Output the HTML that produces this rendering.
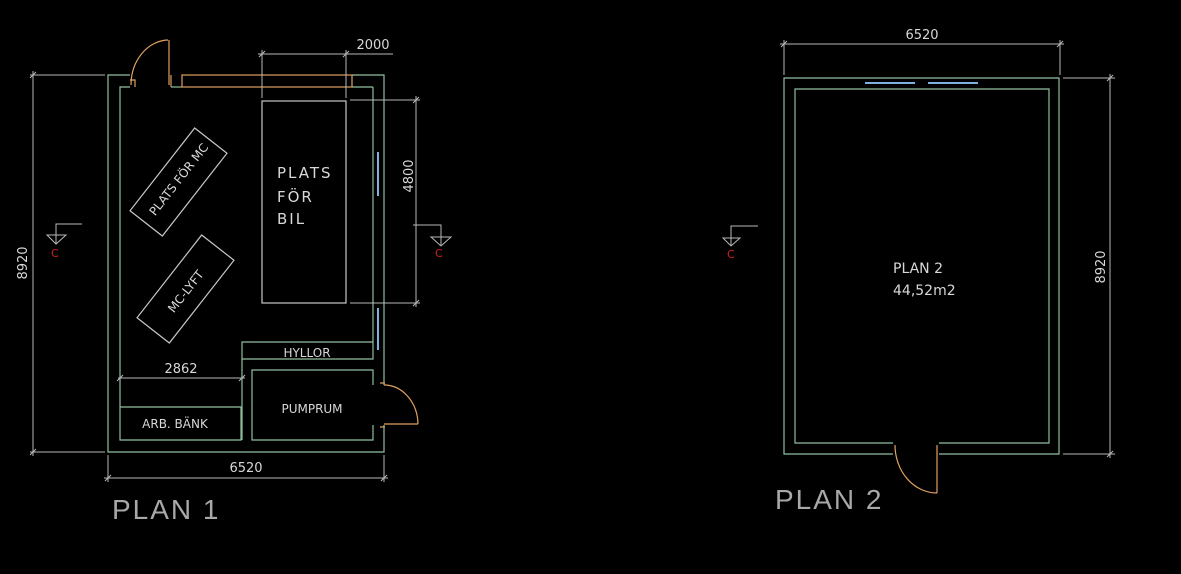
<!DOCTYPE html>
<html><head><meta charset="utf-8"><style>
html,body{margin:0;padding:0;background:#000;}
svg{display:block;}
text{font-family:"DejaVu Sans","Liberation Sans",sans-serif;fill:#d8d8d8;}
</style></head><body>
<svg width="1181" height="574" viewBox="0 0 1181 574" xmlns="http://www.w3.org/2000/svg">
<rect width="1181" height="574" fill="#000"/>
<g fill="none" stroke-width="1.2">
<g stroke="#8fbf9f">
<polyline points="130,75 108,75 108,452 384,452 384,425"/>
<polyline points="384,385 384,75 352,75"/>
<polyline points="130,87 120,87 120,440 241,440 241,407 120,407"/>
<polyline points="171,87 182,87"/>
<line x1="352" y1="87" x2="373" y2="87"/>
<polyline points="373,87 373,359 242,359 242,342 373,342"/>
<line x1="242" y1="359" x2="242" y2="440"/>
<polyline points="373,385 373,370 252,370 252,440 373,440 373,425"/>
</g>
<g stroke="#e0a060">
<rect x="182" y="75" width="170" height="12"/>
<line x1="171" y1="75" x2="171" y2="87"/>
<line x1="169" y1="40" x2="169" y2="85"/>
<path d="M131,85 A38,45 0 0 1 168,40"/>
<line x1="384" y1="424" x2="418" y2="424"/>
<path d="M384,385 A34,40 0 0 1 418,424"/>
<path d="M130,80 h5 v7 M380,383 h5 M380,427 h5"/>
</g>
<g stroke="#80b0e0" stroke-width="2">
<line x1="378" y1="152" x2="378" y2="196"/>
<line x1="378" y1="308" x2="378" y2="350"/>
<line x1="865" y1="83" x2="915" y2="83"/>
<line x1="928" y1="83" x2="978" y2="83"/>
</g>
<g stroke="#c8c8c8">
<rect x="262" y="101" width="84" height="202"/>
<rect x="-52.5" y="-20.5" width="105" height="41" transform="translate(178.5,182) rotate(-52)"/>
<rect x="-52.5" y="-20.5" width="105" height="41" transform="translate(185.5,289) rotate(-52)"/>
</g>
<g stroke="#b8b8b8" stroke-width="1">
<line x1="262" y1="50" x2="262" y2="98"/><line x1="346" y1="50" x2="346" y2="98"/>
<line x1="258" y1="54" x2="393" y2="54"/>
<line x1="350" y1="100" x2="420" y2="100"/><line x1="350" y1="303" x2="420" y2="303"/>
<line x1="416" y1="96" x2="416" y2="307"/>
<line x1="118" y1="378" x2="245" y2="378"/>
<line x1="108" y1="455" x2="108" y2="482"/><line x1="384" y1="455" x2="384" y2="482"/>
<line x1="104" y1="478" x2="388" y2="478"/>
<line x1="30" y1="75" x2="105" y2="75"/><line x1="30" y1="452" x2="105" y2="452"/>
<line x1="33" y1="71" x2="33" y2="456"/>
<path d="M259,57 l6,-6 M343,57 l6,-6 M413,103 l6,-6 M413,306 l6,-6 M117,381 l6,-6 M239,381 l6,-6 M105,481 l6,-6 M381,481 l6,-6 M30,78 l6,-6 M30,455 l6,-6"/>
<polyline points="82,224 56,224 56,244"/>
<polygon points="47,235 66,235 56,244"/>
<polyline points="413,225 441,225 441,245"/>
<polygon points="431,237 451,237 441,246"/>
<polyline points="758,226 731,226 731,246"/>
<polygon points="723,238 740,238 731,246"/>
<line x1="784" y1="40" x2="784" y2="75"/><line x1="1060" y1="40" x2="1060" y2="75"/>
<line x1="780" y1="44" x2="1064" y2="44"/>
<line x1="1063" y1="78" x2="1115" y2="78"/><line x1="1063" y1="454" x2="1115" y2="454"/>
<line x1="1110" y1="74" x2="1110" y2="458"/>
<path d="M781,47 l6,-6 M1057,47 l6,-6 M1107,81 l6,-6 M1107,457 l6,-6"/>
</g>
<g stroke="#8fbf9f">
<polyline points="893,454 784,454 784,78 1059,78 1059,454 939,454"/>
<polyline points="893,443 795,443 795,89 1049,89 1049,443 939,443"/>
</g>
<g stroke="#e0a060">
<line x1="937" y1="445" x2="937" y2="493"/>
<path d="M895,445 A42,48 0 0 0 937,493"/>
</g>
</g>
<g font-size="11"><text x="51" y="257" style="fill:#cc2222">C</text><text x="435" y="257" style="fill:#cc2222">C</text><text x="727" y="258" style="fill:#cc2222">C</text></g>
<g font-size="14">
<text x="373" y="49" text-anchor="middle" font-size="13">2000</text>
<text x="277" y="178" font-size="15" letter-spacing="2">PLATS</text>
<text x="277" y="202" font-size="15" letter-spacing="2">FÖR</text>
<text x="277" y="224" font-size="15" letter-spacing="2">BIL</text>
<text transform="translate(413,176) rotate(-90)" text-anchor="middle" font-size="13">4800</text>
<text transform="translate(27,263) rotate(-90)" text-anchor="middle" font-size="13">8920</text>
<text transform="translate(182,182) rotate(-52)" text-anchor="middle" font-size="12">PLATS FÖR MC</text>
<text transform="translate(189,294) rotate(-52)" text-anchor="middle" font-size="12">MC-LYFT</text>
<text x="307" y="357" text-anchor="middle" font-size="12">HYLLOR</text>
<text x="181" y="373" text-anchor="middle" font-size="13">2862</text>
<text x="175" y="428" text-anchor="middle" font-size="12">ARB. BÄNK</text>
<text x="312" y="413" text-anchor="middle" font-size="12">PUMPRUM</text>
<text x="246" y="472" text-anchor="middle" font-size="13">6520</text>
<text x="112" y="519" font-size="28" letter-spacing="2" style="fill:#a8a8a8;font-family:'Liberation Sans',sans-serif">PLAN 1</text>
<text x="922" y="39" text-anchor="middle" font-size="13">6520</text>
<text transform="translate(1105,267) rotate(-90)" text-anchor="middle" font-size="13">8920</text>
<text x="893" y="273" font-size="14">PLAN 2</text>
<text x="893" y="295" font-size="14">44,52m2</text>
<text x="775" y="509" font-size="28" letter-spacing="2" style="fill:#a8a8a8;font-family:'Liberation Sans',sans-serif">PLAN 2</text>
</g>
</svg>
</body></html>
